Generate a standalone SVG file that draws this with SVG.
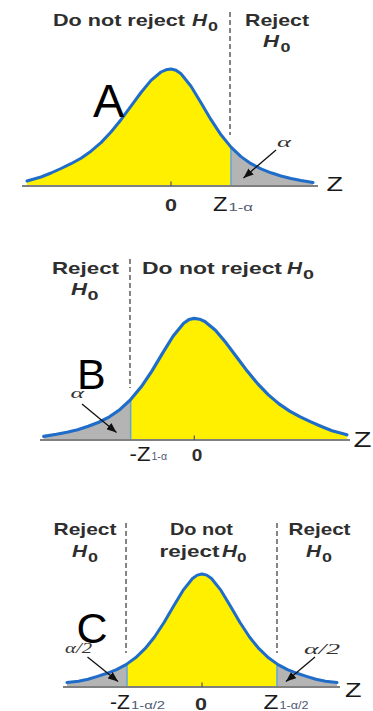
<svg xmlns="http://www.w3.org/2000/svg" xmlns:xlink="http://www.w3.org/1999/xlink" width="373" height="711" viewBox="0 0 373 711">
<style>
.t{font-family:"Liberation Sans",Arial,Helvetica,sans-serif;font-weight:bold;font-size:17px;fill:#2e2e2e}
.hi{font-style:italic}
.sub{font-size:13px}
.big{font-family:"Liberation Sans",Arial,Helvetica,sans-serif;fill:#000}
.z{font-family:"Liberation Sans",Arial,Helvetica,sans-serif;fill:#1a1a1a}
.zs{font-family:"Liberation Sans",Arial,Helvetica,sans-serif;font-size:10.5px;fill:#4f5b72}
.al{font-family:"Liberation Serif","Times New Roman",serif;font-style:italic;font-size:15px;fill:#333}
.yel{fill:#fff000}
.gry{fill:#b4b4b4}
.curve{fill:none;stroke:#1f6dc9;stroke-width:3;stroke-linejoin:round;stroke-linecap:round}
.crit{stroke:#5aa4e6;stroke-width:1.5}
.axis{stroke:#808080;stroke-width:2}
.tick{stroke:#555;stroke-width:1.2}
.dash{stroke:#666;stroke-width:1.6;stroke-dasharray:5 3;fill:none}
.arr{stroke:#111;stroke-width:1.3;fill:none}
</style>
<defs>
<path id="bellA" d="M27,185.5 L27,181 L41,177 L51,173 L61,168.5 L71,163.7 L81,158.2 L91,151.2 L101,142.6 L111,132 L121,119.7 L131,106.2 L141,92.5 L151,80.4 L161,72 L166,69.8 L171,69 L176,70.2 L181,73.7 L191,86.2 L201,102.7 L211,119.7 L221,134.8 L231,147.1 L241,156.6 L251,163.7 L261,168.9 L271,172.8 L281,176 L291,178.5 L301,180.5 L313,182.5 L313,185.5 Z"/>
<path id="bellAline" d="M27,181 L41,177 L51,173 L61,168.5 L71,163.7 L81,158.2 L91,151.2 L101,142.6 L111,132 L121,119.7 L131,106.2 L141,92.5 L151,80.4 L161,72 L166,69.8 L171,69 L176,70.2 L181,73.7 L191,86.2 L201,102.7 L211,119.7 L221,134.8 L231,147.1 L241,156.6 L251,163.7 L261,168.9 L271,172.8 L281,176 L291,178.5 L301,180.5 L313,182.5"/>
<path id="bellC" d="M67,686 L67,682.6 L78.5,681.2 L88,679.3 L97.5,676.4 L107,673.3 L116.5,669.6 L126,664.6 L135.5,657.8 L145,648.7 L154.5,637 L164,622.5 L173.5,606.2 L183,590.4 L192.5,578.5 L197.25,575.1 L202,574 L206.75,575.1 L211.5,578.5 L221,590.4 L230.5,606.2 L240,622.5 L249.5,637 L259,648.7 L268.5,657.8 L278,664.6 L287.5,669.6 L297,673.3 L306.5,676.4 L316,679.3 L325.5,681.2 L337,682.6 L337,686 Z"/>
<path id="bellCline" d="M67,682.6 L78.5,681.2 L88,679.3 L97.5,676.4 L107,673.3 L116.5,669.6 L126,664.6 L135.5,657.8 L145,648.7 L154.5,637 L164,622.5 L173.5,606.2 L183,590.4 L192.5,578.5 L197.25,575.1 L202,574 L206.75,575.1 L211.5,578.5 L221,590.4 L230.5,606.2 L240,622.5 L249.5,637 L259,648.7 L268.5,657.8 L278,664.6 L287.5,669.6 L297,673.3 L306.5,676.4 L316,679.3 L325.5,681.2 L337,682.6"/>
<clipPath id="cL" clipPathUnits="userSpaceOnUse"><rect x="0" y="0" width="231" height="800"/></clipPath>
<clipPath id="cR" clipPathUnits="userSpaceOnUse"><rect x="231" y="0" width="300" height="800"/></clipPath>
<clipPath id="cCm" clipPathUnits="userSpaceOnUse"><rect x="127" y="500" width="150" height="211"/></clipPath>
<clipPath id="cCs" clipPathUnits="userSpaceOnUse"><path d="M0,500 H127 V711 H0 Z M277,500 H373 V711 H277 Z"/></clipPath>
<marker id="ah" viewBox="0 0 10 8" refX="10" refY="4" markerWidth="10" markerHeight="8" markerUnits="userSpaceOnUse" orient="auto"><path d="M0,0 L10,4 L0,8 z" fill="#111"/></marker>
</defs>

<g id="panel-A">
<line class="dash" x1="230" y1="12" x2="230" y2="135"/>
<use href="#bellA" class="yel" clip-path="url(#cL)"/>
<use href="#bellA" class="gry" clip-path="url(#cR)"/>
<line class="crit" x1="231" y1="185.5" x2="231" y2="148"/>
<line class="axis" x1="22" y1="186" x2="318" y2="186"/>
<line class="tick" x1="171" y1="181.5" x2="171" y2="186"/>
<use href="#bellAline" class="curve"/>
<text class="t" x="53" y="26" textLength="132" lengthAdjust="spacingAndGlyphs">Do not reject</text>
<text class="t hi" x="192" y="26" textLength="15" lengthAdjust="spacingAndGlyphs">H</text>
<text class="t sub" x="208" y="31" textLength="10" lengthAdjust="spacingAndGlyphs">0</text>
<text class="t" x="245" y="26" textLength="64" lengthAdjust="spacingAndGlyphs">Reject</text>
<text class="t hi" x="263" y="47" textLength="16" lengthAdjust="spacingAndGlyphs">H</text>
<text class="t sub" x="280.5" y="51.5" textLength="10" lengthAdjust="spacingAndGlyphs">0</text>
<text class="big" x="93" y="117" font-size="47">A</text>
<text class="al" x="277" y="147.3" textLength="14" lengthAdjust="spacingAndGlyphs">α</text>
<text class="t" x="165" y="211" font-size="15" textLength="12" lengthAdjust="spacingAndGlyphs">0</text>
<text class="z" x="213" y="211" font-size="20" textLength="14.5" lengthAdjust="spacingAndGlyphs">Z</text>
<text class="zs" x="228.5" y="210.5" textLength="24.5" lengthAdjust="spacingAndGlyphs">1-α</text>
<text class="z" x="326.5" y="190.7" font-size="20" textLength="16.5" lengthAdjust="spacingAndGlyphs">Z</text>
</g>

<g id="panel-B">
<line class="dash" x1="130" y1="259" x2="130" y2="388"/>
<g transform="matrix(-1.06,0,0,1.04,375.5,246.6)">
<use href="#bellA" class="yel" clip-path="url(#cL)"/>
<use href="#bellA" class="gry" clip-path="url(#cR)"/>
<line class="crit" x1="231" y1="185.5" x2="231" y2="148" vector-effect="non-scaling-stroke"/>
</g>
<line class="axis" x1="40" y1="440" x2="350" y2="440"/>
<line class="tick" x1="194.3" y1="435.5" x2="194.3" y2="440"/>
<g transform="matrix(-1.06,0,0,1.04,375.5,246.6)">
<use href="#bellAline" class="curve" vector-effect="non-scaling-stroke"/>
</g>
<text class="t" x="52" y="274" textLength="67" lengthAdjust="spacingAndGlyphs">Reject</text>
<text class="t hi" x="71" y="295" textLength="16" lengthAdjust="spacingAndGlyphs">H</text>
<text class="t sub" x="87.5" y="300" textLength="11" lengthAdjust="spacingAndGlyphs">0</text>
<text class="t" x="142" y="274" textLength="140" lengthAdjust="spacingAndGlyphs">Do not reject</text>
<text class="t hi" x="287" y="274" textLength="15" lengthAdjust="spacingAndGlyphs">H</text>
<text class="t sub" x="303" y="279" textLength="11" lengthAdjust="spacingAndGlyphs">0</text>
<text class="big" x="77" y="389" font-size="43">B</text>
<text class="al" x="70.5" y="398" textLength="13.5" lengthAdjust="spacingAndGlyphs">α</text>
<text class="z" x="129.5" y="460.5" font-size="20" textLength="21" lengthAdjust="spacingAndGlyphs">-Z</text>
<text class="zs" x="151.5" y="460" textLength="15.5" lengthAdjust="spacingAndGlyphs">1-α</text>
<text class="t" x="191.7" y="460.5" font-size="15" textLength="10.6" lengthAdjust="spacingAndGlyphs">0</text>
<text class="z" x="353.5" y="447" font-size="22" textLength="18" lengthAdjust="spacingAndGlyphs">Z</text>
</g>

<g id="panel-C">
<line class="dash" x1="126" y1="523" x2="126" y2="653"/>
<line class="dash" x1="277" y1="523" x2="277" y2="653"/>
<use href="#bellC" class="yel" clip-path="url(#cCm)"/>
<use href="#bellC" class="gry" clip-path="url(#cCs)"/>
<line class="crit" x1="127" y1="686" x2="127" y2="664.5"/>
<line class="crit" x1="277" y1="686" x2="277" y2="665"/>
<line class="axis" x1="63" y1="687" x2="340" y2="687"/>
<line class="tick" x1="202" y1="682.5" x2="202" y2="687"/>
<use href="#bellCline" class="curve"/>
<text class="t" x="53.5" y="535" textLength="63" lengthAdjust="spacingAndGlyphs">Reject</text>
<text class="t hi" x="72" y="557" textLength="15" lengthAdjust="spacingAndGlyphs">H</text>
<text class="t sub" x="88" y="561.5" textLength="10" lengthAdjust="spacingAndGlyphs">0</text>
<text class="t" x="170" y="535" textLength="63" lengthAdjust="spacingAndGlyphs">Do not</text>
<text class="t" x="159.5" y="557" textLength="60" lengthAdjust="spacingAndGlyphs">reject</text>
<text class="t hi" x="222" y="557" textLength="15" lengthAdjust="spacingAndGlyphs">H</text>
<text class="t sub" x="237" y="561.5" textLength="9.5" lengthAdjust="spacingAndGlyphs">0</text>
<text class="t" x="288.5" y="535" textLength="62" lengthAdjust="spacingAndGlyphs">Reject</text>
<text class="t hi" x="306" y="557" textLength="15" lengthAdjust="spacingAndGlyphs">H</text>
<text class="t sub" x="322" y="561.5" textLength="10" lengthAdjust="spacingAndGlyphs">0</text>
<text class="al" x="65" y="652.7" textLength="27" lengthAdjust="spacingAndGlyphs">α/2</text>
<text class="big" x="76.5" y="643" font-size="43">C</text>
<text class="al" x="304" y="653.5" textLength="36" lengthAdjust="spacingAndGlyphs">α/2</text>
<text class="z" x="110" y="709" font-size="20" textLength="20" lengthAdjust="spacingAndGlyphs">-Z</text>
<text class="zs" x="131" y="709" textLength="34" lengthAdjust="spacingAndGlyphs">1-α/2</text>
<text class="t" x="195" y="710" font-size="15" textLength="12" lengthAdjust="spacingAndGlyphs">0</text>
<text class="z" x="263.5" y="709" font-size="20" textLength="15" lengthAdjust="spacingAndGlyphs">Z</text>
<text class="zs" x="279.5" y="709" textLength="29" lengthAdjust="spacingAndGlyphs">1-α/2</text>
<text class="z" x="345" y="697" font-size="21" textLength="16.5" lengthAdjust="spacingAndGlyphs">Z</text>
</g>

<g id="connectors">
<line class="arr" x1="276" y1="150" x2="243.5" y2="178" marker-end="url(#ah)"/>
<line class="arr" x1="82" y1="404" x2="116.5" y2="432.5" marker-end="url(#ah)"/>
<line class="arr" x1="87.5" y1="657" x2="118" y2="681.5" marker-end="url(#ah)"/>
<line class="arr" x1="315" y1="657" x2="286" y2="681.5" marker-end="url(#ah)"/>
</g>
</svg>
